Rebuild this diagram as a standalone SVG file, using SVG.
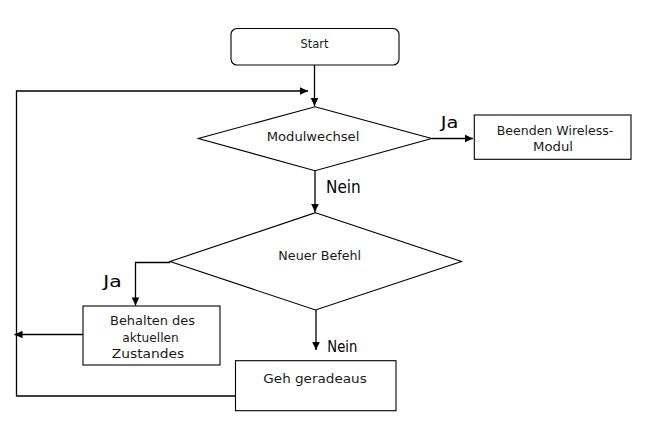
<svg xmlns="http://www.w3.org/2000/svg" width="666" height="426" viewBox="0 0 666 426">
<style>
.shape{fill:#fff;stroke:#000;stroke-width:1.1}
.conn{fill:none;stroke:#000;stroke-width:1.3}
.t{font-family:"DejaVu Sans","Liberation Sans",sans-serif;font-size:12px;fill:#1a1a1a}
.lbl{font-family:"DejaVu Sans","Liberation Sans",sans-serif;fill:#000}
</style>
<defs>
<marker id="arr" markerUnits="userSpaceOnUse" markerWidth="10" markerHeight="10" viewBox="0 0 10 10" refX="9" refY="5" orient="auto">
<path d="M1,1.2 L9,5 L1,8.8 Z" fill="#000"/>
</marker>
</defs>
<rect width="666" height="426" fill="#fff"/>
<g id="connectors">
<path class="conn" d="M314.5,65 V106" marker-end="url(#arr)"/>
<path class="conn" d="M236,396 H16.5 V91 H308" marker-end="url(#arr)"/>
<path class="conn" d="M83,334.5 H14.5" marker-end="url(#arr)"/>
<path class="conn" d="M432,138.5 H473" marker-end="url(#arr)"/>
<path class="conn" d="M315,171 V212" marker-end="url(#arr)"/>
<path class="conn" d="M170,262.5 H135.5 V305.5" marker-end="url(#arr)"/>
<path class="conn" d="M316,310 V350" marker-end="url(#arr)"/>
<text class="lbl" x="440.7" y="128.3" font-size="15" textLength="17.6" lengthAdjust="spacingAndGlyphs">Ja</text>
<text class="lbl" x="326" y="192.7" font-size="17" textLength="34.7" lengthAdjust="spacingAndGlyphs">Nein</text>
<text class="lbl" x="103.3" y="287.3" font-size="15" textLength="18.4" lengthAdjust="spacingAndGlyphs">Ja</text>
<text class="lbl" x="327.3" y="351.7" font-size="15" textLength="30" lengthAdjust="spacingAndGlyphs">Nein</text>
</g>
<g id="start">
<rect class="shape" x="231" y="28.5" width="168" height="36.5" rx="6"/>
<text class="t" x="314.5" y="48.3" text-anchor="middle" textLength="28" lengthAdjust="spacingAndGlyphs">Start</text>
</g>
<g id="modulwechsel">
<polygon class="shape" points="315,106.7 431.7,138.5 315,170.7 198.3,138.5"/>
<text class="t" x="313" y="140.5" text-anchor="middle" textLength="92.6" lengthAdjust="spacingAndGlyphs">Modulwechsel</text>
</g>
<g id="beenden">
<rect class="shape" x="474.3" y="115" width="156.7" height="44.3"/>
<text class="t" x="555" y="135" text-anchor="middle" textLength="116.6" lengthAdjust="spacingAndGlyphs">Beenden Wireless-</text>
<text class="t" x="553" y="150.7" text-anchor="middle" textLength="40" lengthAdjust="spacingAndGlyphs">Modul</text>
</g>
<g id="neuer-befehl">
<polygon class="shape" points="315.5,212.7 461.5,261.5 315.5,310 170,261.5"/>
<text class="t" x="319.7" y="260" text-anchor="middle" textLength="82.7" lengthAdjust="spacingAndGlyphs">Neuer Befehl</text>
</g>
<g id="behalten">
<rect class="shape" x="83" y="306" width="137" height="59"/>
<text class="t" x="152.5" y="325" text-anchor="middle" textLength="85" lengthAdjust="spacingAndGlyphs">Behalten des</text>
<text class="t" x="150.5" y="341.7" text-anchor="middle" textLength="56.6" lengthAdjust="spacingAndGlyphs">aktuellen</text>
<text class="t" x="148" y="358.3" text-anchor="middle" textLength="72.6" lengthAdjust="spacingAndGlyphs">Zustandes</text>
</g>
<g id="geh-geradeaus">
<rect class="shape" x="235.5" y="360.7" width="160.5" height="50"/>
<text class="t" x="315" y="382.7" text-anchor="middle" textLength="103.4" lengthAdjust="spacingAndGlyphs">Geh geradeaus</text>
</g>
</svg>
